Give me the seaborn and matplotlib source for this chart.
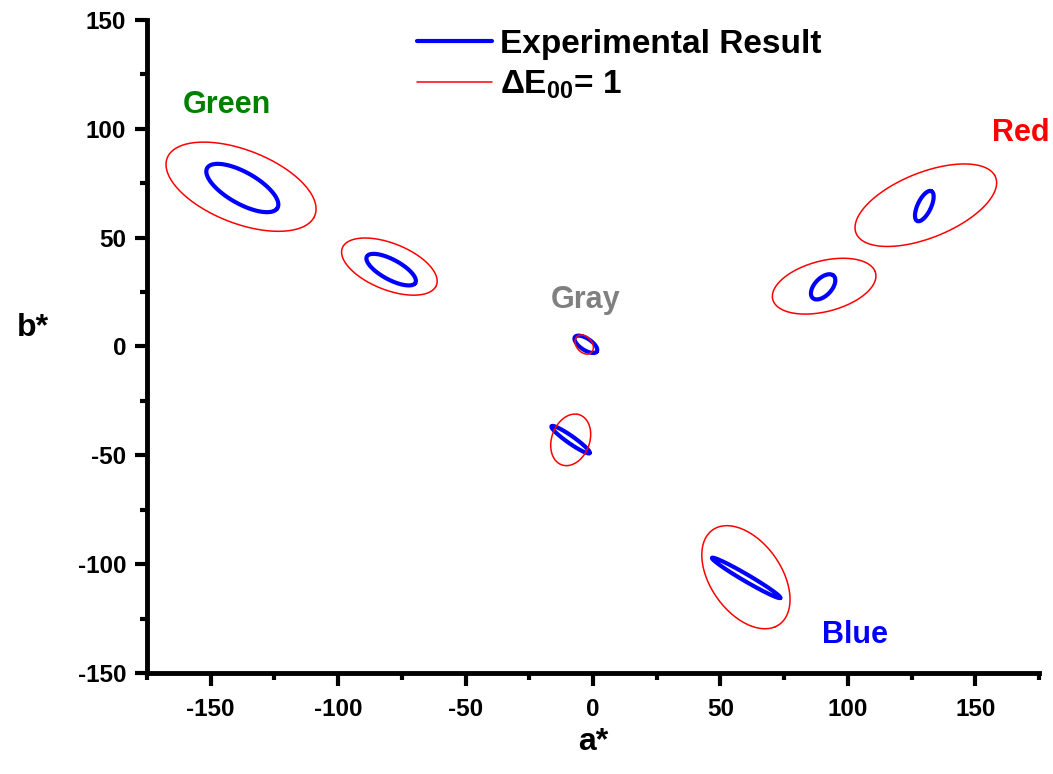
import numpy as np
import pandas as pd
import matplotlib
matplotlib.use("Agg")
import matplotlib.pyplot as plt
from matplotlib.lines import Line2D
from matplotlib.ticker import MultipleLocator
import seaborn as sns

# Colour centres (a*, b*) and their discrimination ellipses:
# centre, semi-major, semi-minor and orientation (degrees, in a*-b* units)
centres = ["Green 1", "Green 2", "Red 1", "Red 2", "Gray", "Blue 2", "Blue 1"]

exp_a = [-137.6, -79.2, 130.0, 90.3, -2.8, -8.8, 60.1]
exp_b = [72.8, 35.3, 64.5, 27.4, 1.0, -42.8, -106.3]
exp_major = [16.6, 11.3, 7.4, 6.6, 5.45, 9.7, 16.25]
exp_minor = [6.9, 4.4, 2.7, 3.6, 2.5, 1.6, 1.5]
exp_angle = [-35.2, -33.7, 68.9, 55.1, -40.0, -39.7, -34.5]

de_a = [-138.1, -79.9, 130.6, 90.7, -3.45, -8.75, 60.0]
de_b = [73.4, 36.7, 64.9, 27.7, 0.9, -42.9, -106.0]
de_major = [31.9, 20.4, 30.3, 21.1, 4.7, 12.05, 25.5]
de_minor = [16.4, 10.4, 14.6, 11.5, 3.2, 7.54, 14.5]
de_angle = [-26.7, -27.2, 27.1, 18.7, -61.3, 76.6, -63.2]

region_names = ["Green", "Red", "Gray", "Blue"]
region_colors = ["#008000", "#FF0000", "#808080", "#0000FF"]
region_a = [-143.6, 168.0, -3.1, 102.8]
region_b = [111.0, 98.0, 21.5, -132.5]

x_ticks = [-150, -100, -50, 0, 50, 100, 150]
y_ticks = [-150, -100, -50, 0, 50, 100, 150]


def outline(names, ca, cb, major, minor, angle, kind):
    t = np.linspace(0, 2 * np.pi, 241)
    rows = []
    for n, x0, y0, A, B, th in zip(names, ca, cb, major, minor, angle):
        r = np.deg2rad(th)
        x = x0 + A * np.cos(t) * np.cos(r) - B * np.sin(t) * np.sin(r)
        y = y0 + A * np.cos(t) * np.sin(r) + B * np.sin(t) * np.cos(r)
        rows.append(pd.DataFrame({"a": x, "b": y, "centre": n,
                                  "order": np.arange(len(t)), "kind": kind}))
    return pd.concat(rows, ignore_index=True)


exp_df = outline(centres, exp_a, exp_b, exp_major, exp_minor, exp_angle,
                 "Experimental Result")
de_df = outline(centres, de_a, de_b, de_major, de_minor, de_angle, "dE00")

sns.set_style("ticks")
plt.rcParams["font.family"] = ["Liberation Sans", "DejaVu Sans"]
plt.rcParams["font.weight"] = "bold"
plt.rcParams["text.color"] = "black"
plt.rcParams["axes.labelcolor"] = "black"
plt.rcParams["xtick.color"] = "black"
plt.rcParams["ytick.color"] = "black"
plt.rcParams["axes.unicode_minus"] = False
plt.rcParams["mathtext.fontset"] = "custom"
plt.rcParams["mathtext.rm"] = "Liberation Sans:bold"
plt.rcParams["mathtext.bf"] = "Liberation Sans:bold"

fig = plt.figure(figsize=(10.53, 7.74), dpi=100)
ax = fig.add_axes([0.1396, 0.1305, 0.8471, 0.8437])

sns.lineplot(data=exp_df, x="a", y="b", units="centre", estimator=None,
             sort=False, color="#0000FF", linewidth=3.0, ax=ax, legend=False)
sns.lineplot(data=de_df, x="a", y="b", units="centre", estimator=None,
             sort=False, color="#FF0000", linewidth=1.1, ax=ax, legend=False)

for name, col, xa, yb in zip(region_names, region_colors, region_a, region_b):
    ax.text(xa, yb, name, color=col, fontsize=22, fontweight="bold",
            ha="center", va="center")

ax.set_xlim(-175, 175)
ax.set_ylim(-150, 150)
ax.set_xticks(x_ticks)
ax.set_yticks(y_ticks)
ax.xaxis.set_minor_locator(MultipleLocator(25))
ax.yaxis.set_minor_locator(MultipleLocator(25))
ax.tick_params(which="major", direction="out", length=9, width=3,
               labelsize=17.5, pad=6, color="black", labelcolor="black")
ax.tick_params(axis="x", which="major", pad=9)
ax.tick_params(which="minor", direction="out", length=5, width=3,
               color="black")
for lab in ax.get_xticklabels() + ax.get_yticklabels():
    lab.set_fontweight("bold")

sns.despine(ax=ax)
for side in ("left", "bottom"):
    ax.spines[side].set_linewidth(3.5)
    ax.spines[side].set_color("black")

ax.set_xlabel("a*", fontsize=23, fontweight="bold", va="center")
ax.set_ylabel("b*", fontsize=23, fontweight="bold", rotation=0,
              ha="center", va="center")
ax.xaxis.set_label_coords(0.5, -0.106)
ax.yaxis.set_label_coords(-0.128, 0.528)

handles = [Line2D([], [], color="#0000FF", linewidth=3.0),
           Line2D([], [], color="#FF0000", linewidth=1.1)]
labels = ["Experimental Result", "\u0394E$_{\\mathregular{00}}$= 1"]
fig.legend(handles, labels, loc="upper left",
           bbox_to_anchor=(417 / 1053, 0.963), frameon=False,
           prop={"size": 24, "weight": "bold"}, borderpad=0,
           borderaxespad=0, handlelength=2.25, handletextpad=0.24,
           labelspacing=0.27)

fig.savefig("out.png", dpi=100)
